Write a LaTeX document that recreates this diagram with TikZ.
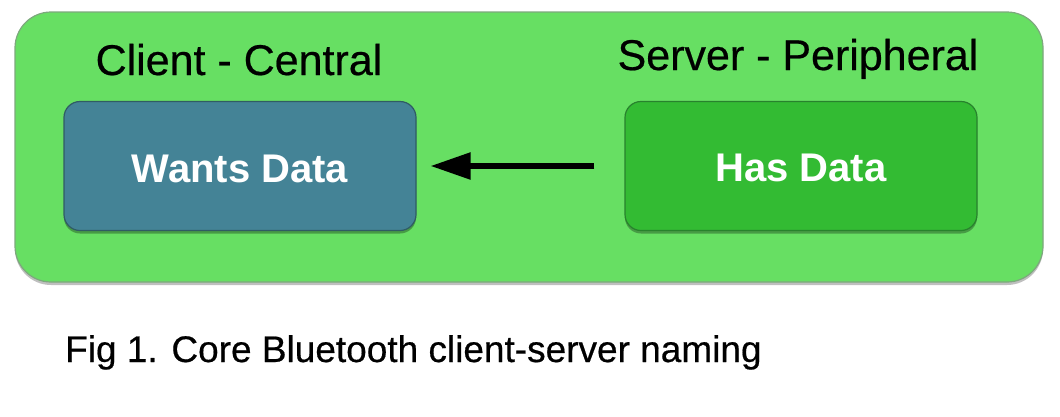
\documentclass[tikz,border=0pt]{standalone}
\usepackage{fontspec}
\setmainfont{Liberation Sans}
\newfontfamily\heavyfont[FakeBold=0.5]{Liberation Sans}
\usetikzlibrary{arrows.meta,shadows}
\definecolor{outerfill}{RGB}{103,223,99}
\definecolor{outerline}{RGB}{125,168,125}
\definecolor{wantfill}{RGB}{68,131,150}
\definecolor{wantline}{RGB}{48,92,100}
\definecolor{hasfill}{RGB}{51,187,51}
\definecolor{hasline}{RGB}{40,130,45}
\begin{document}
\begin{tikzpicture}[x=1pt,y=-1pt,
  outerbox/.style={draw=outerline, line width=1.2pt, fill=outerfill, rounded corners=36pt,
    minimum width=1028pt, minimum height=270pt, inner sep=0pt,
    drop shadow={shadow xshift=0pt, shadow yshift=-3pt, opacity=0.25, fill=black}},
  databox/.style={line width=1.2pt, rounded corners=16pt, minimum width=352pt,
    minimum height=129pt, inner sep=0pt,
    drop shadow={shadow xshift=0pt, shadow yshift=-3pt, opacity=0.3, fill=black}},
  title/.style={anchor=base, font=\heavyfont\fontsize{43}{43}\selectfont, text=black, inner sep=0pt},
  boxtext/.style={anchor=base, font=\fontsize{40}{40}\selectfont\bfseries, text=white, inner sep=0pt},
  caption/.style={anchor=base west, font=\heavyfont\fontsize{37}{37}\selectfont, text=black, inner sep=0pt},
  flow/.style={line width=5.5pt, -{Triangle[length=40pt,width=26pt]}}
]
\useasboundingbox (0,0) rectangle (1060,416);
\node[outerbox] (outer) at (529,147) {};
\node[databox, draw=wantline, fill=wantfill] (wants) at (240,166) {};
\node[databox, draw=hasline, fill=hasfill] (has) at (801,166) {};
\node[boxtext] (wantslbl) at (240,182) {Wants Data};
\node[boxtext] (haslbl) at (801,181) {Has Data};
\node[title] (client) at (239,75) {Client - Central};
\node[title] (server) at (798,70) {Server - Peripheral};
\node[caption] (cap) at (65,362) {Fig 1. Core Bluetooth client-server naming};
\draw[flow] ([xshift=-30pt]has.west) -- ([xshift=14pt]wants.east);
\end{tikzpicture}
\end{document}
